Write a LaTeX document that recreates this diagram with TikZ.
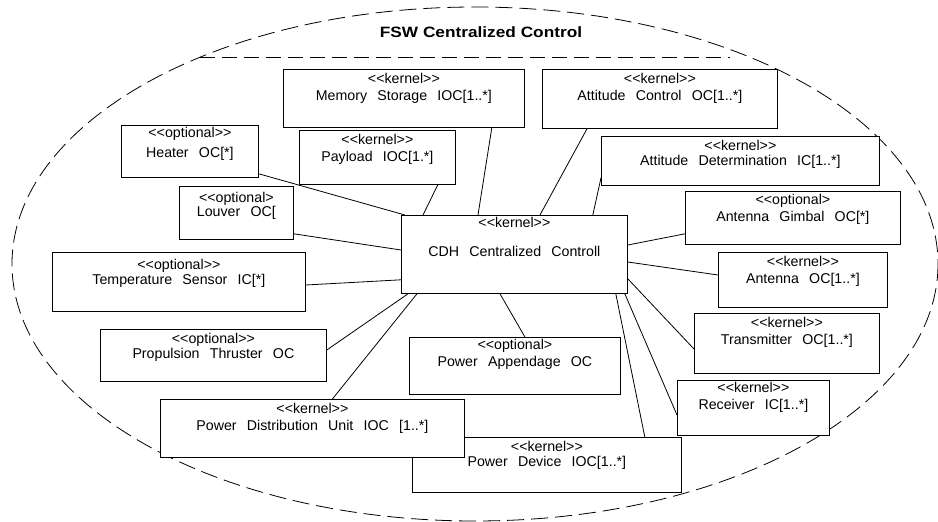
\documentclass[tikz,border=0pt]{standalone}
\usepackage{fontspec}
\newfontfamily\umlfont[WordSpace=2.6]{Liberation Sans}
\newfontfamily\titlefont[FakeStretch=1.15]{Liberation Sans Bold}
\newcommand\umlopen{<\kern0pt<}
\newcommand\umlclose{>\kern0pt>}

\begin{document}
\begin{tikzpicture}[x=1pt,y=-1pt,line width=0.8pt,
  comp/.style={draw,fill=white,rectangle,inner sep=0pt,anchor=north west},
  stereo/.style={anchor=north,yshift=-4pt,align=center,inner sep=0pt,
    font=\umlfont\fontsize{14.2}{17}\selectfont}]
\useasboundingbox (0,0) rectangle (938,522);
% package boundary
\draw[dash pattern=on 17pt off 7pt] (475,264) ellipse [x radius=463,y radius=257];
\coordinate (bl) at (200,57);
\coordinate (br) at (730,57);
\draw[dash pattern=on 15pt off 7pt] (bl)--(br);
\node[font=\titlefont\fontsize{15}{18}\selectfont] (title) at (481,32) {FSW Centralized Control};
% components
\node[comp,minimum width=226,minimum height=78,
  label={[stereo,yshift=2pt]north:{\umlopen kernel\umlclose\\[12pt]CDH Centralized Controll}}] (cdh) at (401,215) {};
\node[comp,minimum width=241,minimum height=58,
  label={[stereo]north:{\umlopen kernel\umlclose\\Memory Storage IOC[1..*]}}] (mem) at (283,69) {};
\node[comp,minimum width=235,minimum height=59,
  label={[stereo]north:{\umlopen kernel\umlclose\\Attitude Control OC[1..*]}}] (attctl) at (542,69) {};
\node[comp,minimum width=137,minimum height=52,
  label={[stereo,yshift=2pt]north:{\umlopen optional\umlclose\\[3pt]Heater OC[*]}}] (heater) at (121,125) {};
\node[comp,minimum width=156,minimum height=54,
  label={[stereo]north:{\umlopen kernel\umlclose\\Payload IOC[1.*]}}] (payload) at (299,130) {};
\node[comp,minimum width=114,minimum height=53,
  label={[stereo,yshift=-2pt]north:{\umlopen optional>\\[-3pt]Louver OC[}}] (louver) at (179,186) {};
\node[comp,minimum width=278,minimum height=49,
  label={[stereo]north:{\umlopen kernel\umlclose\\[-2pt]Attitude Determination IC[1..*]}}] (attdet) at (601,136) {};
\node[comp,minimum width=215,minimum height=53,
  label={[stereo,yshift=1pt]north:{\umlopen optional>\\Antenna Gimbal OC[*]}}] (gimbal) at (685,191) {};
\node[comp,minimum width=169,minimum height=55,
  label={[stereo]north:{\umlopen kernel\umlclose\\Antenna OC[1..*]}}] (antenna) at (718,252) {};
\node[comp,minimum width=185,minimum height=60,
  label={[stereo]north:{\umlopen kernel\umlclose\\Transmitter OC[1..*]}}] (transm) at (694,313) {};
\node[comp,minimum width=152,minimum height=55,
  label={[stereo,yshift=2pt]north:{\umlopen kernel\umlclose\\Receiver IC[1..*]}}] (receiver) at (677,380) {};
\node[comp,minimum width=269,minimum height=55,
  label={[stereo]north:{\umlopen kernel\umlclose\\[-2pt]Power Device IOC[1..*]}}] (pdev) at (412,437) {};
\node[comp,minimum width=211,minimum height=57,
  label={[stereo,yshift=2pt]north:{\umlopen optional>\\Power Appendage OC}}] (append) at (409,337) {};
\node[comp,minimum width=253,minimum height=59,
  label={[stereo,yshift=-3pt]north:{\umlopen optional\umlclose\\[-2pt]Temperature Sensor IC[*]}}] (temp) at (52,252) {};
\node[comp,minimum width=226,minimum height=52,
  label={[stereo]north:{\umlopen optional\umlclose\\[-2pt]Propulsion Thruster OC}}] (prop) at (100,329) {};
\node[comp,minimum width=304,minimum height=58,
  label={[stereo]north:{\umlopen kernel\umlclose\\Power Distribution Unit IOC [1..*]}}] (pdu) at (160,399) {};
% links to the controller
\draw ([yshift=4pt]heater.south east)--([xshift=4pt]cdh.north west)
  ([xshift=-18pt]payload.south east)--([xshift=22pt]cdh.north west)
  ([xshift=-33pt]mem.south east)--([xshift=77pt]cdh.north west)
  ([xshift=45pt]attctl.south west)--([xshift=139pt]cdh.north west)
  ([yshift=8pt]attdet.south west)--([xshift=-35pt]cdh.north east)
  ([yshift=11pt]gimbal.south west)--([yshift=-30pt]cdh.north east)
  ([yshift=-23pt]antenna.north west)--([yshift=-47pt]cdh.north east)
  ([yshift=-36pt]transm.north west)--([yshift=15pt]cdh.south east)
  ([yshift=-35pt]receiver.north west)--([xshift=-3pt]cdh.south east)
  ([xshift=-37pt]pdev.north east)--([xshift=-12pt]cdh.south east)
  ([xshift=10pt]append.north)--([xshift=99pt]cdh.south west)
  ([yshift=6pt]louver.south east)--([yshift=-35pt]cdh.north west)
  ([yshift=-33pt]temp.north east)--([yshift=14pt]cdh.south west)
  ([yshift=-21pt]prop.north east)--([xshift=7pt]cdh.south west)
  ([xshift=20pt]pdu.north)--([xshift=16pt]cdh.south west);
\end{tikzpicture}
\end{document}
